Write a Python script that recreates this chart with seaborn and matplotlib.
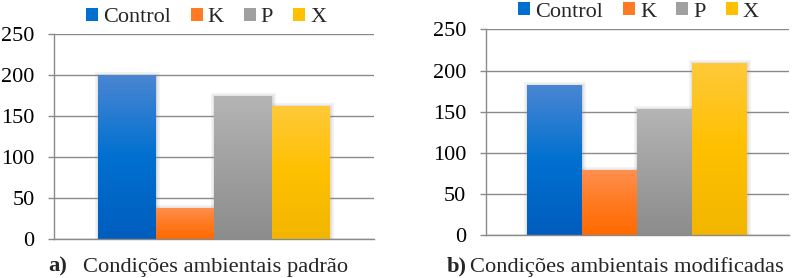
import numpy as np
import pandas as pd
import matplotlib
matplotlib.use("Agg")
import matplotlib.pyplot as plt
import matplotlib.patheffects as pe
from matplotlib.colors import LinearSegmentedColormap
from matplotlib.patches import Patch
import seaborn as sns

# --- data ---
treatments = ["Control", "K", "P", "X"]
standard = [200, 38, 175, 163]
modified = [182, 79, 153, 209]
panel_tags = ["a)", "b)"]
panel_titles = ["Condições ambientais padrão", "Condições ambientais modificadas"]
yticks = [0, 50, 100, 150, 200, 250]

# bottom / middle / top colour of the Excel-like gradient fill
GRADIENTS = {
    "Control": ("#005dbd", "#0070d0", "#4a86d2"),
    "K": ("#ff6a00", "#ff7a22", "#ff9050"),
    "P": ("#8c8c8c", "#a0a0a0", "#b5b5b5"),
    "X": ("#f2b600", "#ffc000", "#ffc93a"),
}
GRID = "#8a8a8a"

sns.set_theme(style="white")
plt.rcParams["font.family"] = ["Liberation Serif", "DejaVu Serif"]

fig = plt.figure(figsize=(7.93, 2.78), dpi=100)
ax_a = fig.add_axes([0.0681, 0.1392, 0.4035, 0.7374])
ax_b = fig.add_axes([0.6125, 0.1536, 0.3825, 0.7410])


def draw_panel(ax, values, legend_anchor):
    df = pd.DataFrame({"group": [""] * len(treatments), "treatment": treatments, "value": values})
    sns.barplot(data=df, x="group", y="value", hue="treatment", hue_order=treatments,
                palette=[GRADIENTS[t][1] for t in treatments], saturation=1,
                width=0.725, gap=0, linewidth=0, legend=False, ax=ax)

    # gradient fill clipped to each bar, plus a soft shadow
    grad = np.linspace(0, 1, 256).reshape(-1, 1)
    for bar, t in zip(ax.patches, treatments):
        x0, y0, w, h = bar.get_x(), bar.get_y(), bar.get_width(), bar.get_height()
        bar.set_path_effects([pe.Stroke(linewidth=5, foreground="0.55", alpha=0.10),
                              pe.Stroke(linewidth=2.5, foreground="0.55", alpha=0.15),
                              pe.Normal()])
        cmap = LinearSegmentedColormap.from_list(t, GRADIENTS[t])
        im = ax.imshow(grad, cmap=cmap, extent=[x0, x0 + w, y0, y0 + h], origin="lower",
                       aspect="auto", zorder=bar.get_zorder() + 0.1)
        im.set_clip_path(bar)

    ax.set_xlim(-0.5, 0.5)
    ax.set_ylim(0, 250)
    ax.set_yticks(yticks)
    ax.set_xticks([])
    ax.set_xlabel("")
    ax.set_ylabel("")
    ax.yaxis.grid(True, color=GRID, linewidth=1.0)
    ax.set_axisbelow(True)
    for side in ["top", "right"]:
        ax.spines[side].set_visible(False)
    for side in ["left", "bottom"]:
        ax.spines[side].set_color(GRID)
        ax.spines[side].set_linewidth(1.0)
    ax.tick_params(axis="y", left=True, length=4, width=1.0, color=GRID, pad=10,
                   labelsize=16, labelcolor="black")

    handles = [Patch(facecolor=GRADIENTS[t][1], edgecolor="none") for t in treatments]
    ax.legend(handles, treatments, loc="center", bbox_to_anchor=legend_anchor, ncol=4,
              frameon=False, fontsize=16, handlelength=0.54, handleheight=0.54,
              handletextpad=0.23, columnspacing=0.9, borderpad=0)


draw_panel(ax_a, standard, (0.475, 1.082))
draw_panel(ax_b, modified, (0.504, 1.084))

# panel captions: bold tag followed by plain title
for (x, gap), tag, title in zip([(48 / 793, 11.5), (447 / 793, 2.5)], panel_tags, panel_titles):
    t = fig.text(x, 0.022, tag, fontsize=16.2, fontweight="bold", va="baseline")
    fig.add_artist(plt.Annotation(title, xy=(1, 0), xycoords=t, xytext=(gap, 0),
                                  textcoords="offset points", va="bottom", fontsize=16.2))

fig.savefig("out.png", dpi=100)
